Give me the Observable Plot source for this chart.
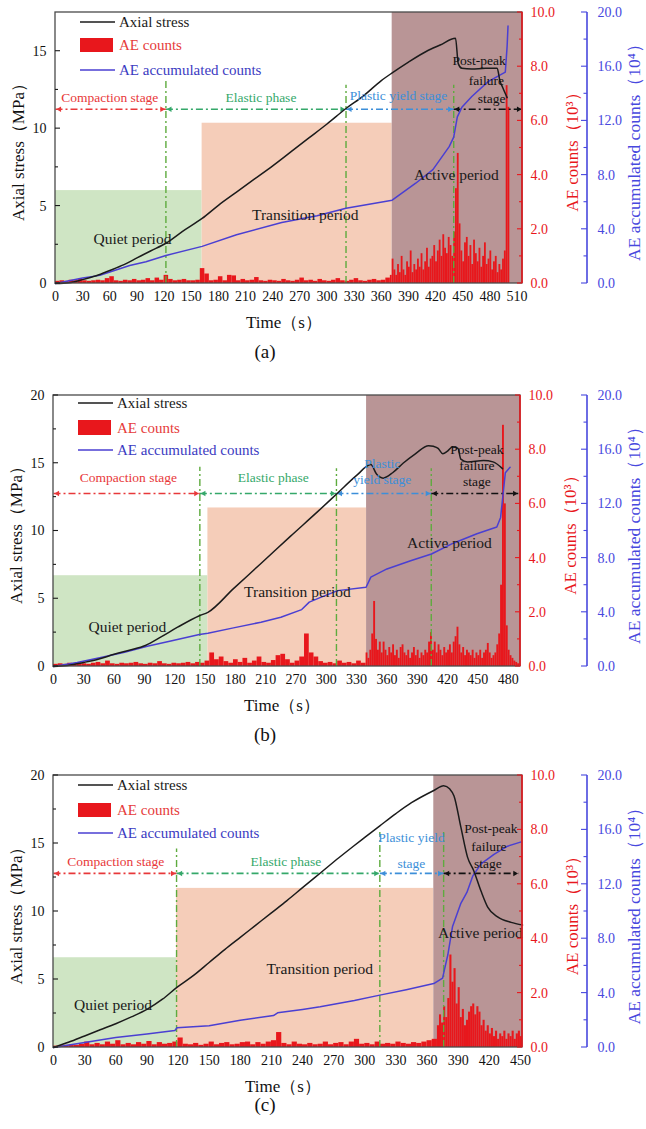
<!DOCTYPE html>
<html>
<head>
<meta charset="utf-8">
<script src="https://cdn.jsdelivr.net/npm/d3@7"></script>
<script src="https://cdn.jsdelivr.net/npm/@observablehq/plot@0.6"></script>
<style>
  body { margin: 0; background: #fff; width: 646px; font-family: "Liberation Serif", "Times New Roman", serif; }
  svg { display: block; overflow: visible; }
  .cap { width: 530px; text-align: center; font-size: 19px; color: #111; }
</style>
</head>
<body>
<div id="root"></div>
<script>
// ---------- Panel (a) ----------
const aTimeTicks = [0, 30, 60, 90, 120, 150, 180, 210, 240, 270, 300, 330, 360, 390, 420, 450, 480, 510];
const aStressT = [0, 15, 30, 45, 60, 75, 90, 105, 122, 140, 162, 180, 200, 220, 240, 260, 280, 300, 321, 340, 360, 372, 390, 410, 425, 442, 445, 449, 460, 475, 488, 491, 494, 499];
const aStress  = [0, 0.05, 0.25, 0.5, 0.84, 1.2, 1.65, 2.1, 2.6, 3.35, 4.2, 5.05, 5.9, 6.75, 7.6, 8.5, 9.4, 10.3, 11.3, 12.1, 13.1, 13.6, 14.3, 15.0, 15.4, 15.84, 14.2, 13.9, 13.85, 13.9, 13.9, 13.1, 12.67, 12.0];
const aAccT = [0, 15, 30, 49, 60, 82, 100, 122, 162, 200, 250, 289, 321, 372, 398, 417, 435, 440, 444, 449, 460, 478, 497, 499, 500];
const aAcc  = [0, 0.2, 0.4, 0.6, 0.85, 1.33, 1.6, 2.07, 2.74, 3.6, 4.5, 5.0, 5.55, 6.15, 7.4, 8.4, 10.1, 10.8, 12.3, 13.0, 13.8, 14.9, 15.6, 17.5, 19.0];
// AE counts (10^3): 5 s bins from 0 s, then 2 s bins from 370 s
const aAeEarly = [
  0.08, 0.10, 0.08, 0.12, 0.10, 0.15, 0.10, 0.08, 0.10, 0.12,
  0.10, 0.18, 0.25, 0.10, 0.08, 0.12, 0.10, 0.15, 0.10, 0.12,
  0.18, 0.10, 0.20, 0.12, 0.30, 0.15, 0.10, 0.12, 0.15, 0.10,
  0.10, 0.12, 0.55, 0.35, 0.10, 0.12, 0.25, 0.10, 0.30, 0.28,
  0.10, 0.15, 0.10, 0.12, 0.22, 0.10, 0.08, 0.12, 0.10, 0.08,
  0.15, 0.10, 0.08, 0.12, 0.20, 0.10, 0.12, 0.08, 0.15, 0.10,
  0.08, 0.12, 0.18, 0.10, 0.08, 0.12, 0.18, 0.10, 0.08, 0.12,
  0.15, 0.10, 0.12, 0.20];
const aAeLate = [
  0.30, 0.90, 0.50, 0.30, 0.70, 0.40, 1.00, 0.50, 0.30, 0.80,
  0.60, 1.20, 0.40, 0.70, 0.50, 0.90, 0.60, 1.10, 0.50, 0.80,
  1.30, 0.60, 0.90, 1.00, 1.40, 0.80, 1.20, 1.60, 1.00, 1.80,
  1.30, 1.10, 1.70, 1.40, 1.00, 1.90, 3.50, 4.80, 2.20, 1.20,
  0.80, 1.50, 1.70, 1.00, 1.40, 0.70, 1.60, 1.10, 0.80, 1.30,
  0.60, 1.00, 1.50, 0.70, 0.90, 1.20, 0.50, 0.80, 1.00, 0.40,
  0.70, 0.50, 0.90, 1.20, 7.30, 6.50];
const aStageEdges = [0, 122, 321, 440, 516];
const aRuleTops = [13.1, 12.8, 12.8];
const aPeriodEdges = [0, 162, 372, 516];
const aPeriodTops = [6.0, 10.35, null];

// ---------- Panel (b) ----------
const bTimeLabels = ["0", "30", "60", "90", "120", "150", "180", "210", "270", "300", "330", "360", "390", "420", "450", "480"];
const bStressT = [0, 15, 32, 48, 64, 80, 97, 114, 131, 154, 163, 190, 219, 250, 280, 300, 320, 335, 341, 348, 358, 369, 382, 396, 401, 406, 411, 416, 421, 427, 430, 437, 454, 464, 474];
const bStress  = [0, 0.08, 0.3, 0.55, 0.9, 1.2, 1.55, 2.2, 2.9, 3.75, 4.0, 5.75, 7.6, 9.6, 11.5, 12.8, 14.1, 14.9, 14.2, 13.9, 14.3, 15.0, 15.7, 16.3, 16.25, 16.1, 15.7, 15.9, 16.2, 16.1, 15.3, 15.1, 15.2, 15.1, 14.6];
const bAccT = [0, 25, 50, 75, 99, 125, 154, 163, 190, 219, 240, 262, 270, 282, 300, 330, 335, 352, 377, 399, 422, 447, 468, 472, 477, 482];
const bAcc  = [0, 0.3, 0.66, 1.05, 1.5, 1.9, 2.36, 2.45, 2.85, 3.27, 3.64, 4.2, 4.75, 5.1, 5.6, 5.85, 6.6, 7.2, 7.8, 8.3, 9.1, 9.8, 10.3, 11.0, 14.3, 14.7];
const bAeEarly = [
  0.08, 0.10, 0.08, 0.12, 0.10, 0.12, 0.10, 0.08, 0.12, 0.15,
  0.10, 0.20, 0.10, 0.08, 0.12, 0.10, 0.12, 0.15, 0.10, 0.08,
  0.12, 0.10, 0.18, 0.10, 0.08, 0.12, 0.10, 0.12, 0.15, 0.10,
  0.15, 0.12, 0.20, 0.50, 0.25, 0.35, 0.18, 0.12, 0.25, 0.15,
  0.30, 0.12, 0.20, 0.35, 0.15, 0.12, 0.22, 0.40, 0.45, 0.25,
  0.12, 0.20, 0.35, 1.20, 0.50, 0.35, 0.18, 0.12, 0.15, 0.10,
  0.20, 0.12, 0.15, 0.10, 0.20, 0.12];
const bAeLate = [
  0.50,
  0.30, 0.60, 1.20, 2.40, 1.00, 0.60, 0.90, 0.50, 0.90, 0.60,
  0.40, 0.70, 0.50, 0.80, 0.40, 0.60, 0.30, 0.70, 0.80, 0.50,
  0.40, 0.60, 0.30, 0.50, 0.70, 0.40, 0.60, 0.30, 0.50, 0.40,
  0.60, 0.50, 0.90, 1.25, 0.60, 0.90, 0.50, 0.80, 0.60, 0.40,
  0.70, 0.50, 0.60, 0.80, 0.50, 0.90, 1.10, 1.45, 0.80, 0.50,
  0.70, 0.40, 0.60, 0.50, 0.40, 0.60, 0.30, 0.50, 0.40, 0.60,
  0.30, 0.50, 0.60, 0.85, 0.50, 0.30, 0.40, 0.50, 0.80, 1.20,
  3.00, 8.90, 6.00, 1.50, 0.60, 0.40, 0.30, 0.20, 0.15, 0.10];
const bStageEdges = [0, 154.5, 298.7, 398.8, 491];
const bRuleTops = [14.7, 14.6, 14.6];
const bPeriodEdges = [0, 163, 330.5, 493];
const bPeriodTops = [6.7, 11.7, null];

// ---------- Panel (c) ----------
const cTimeTicks = [0, 30, 60, 90, 120, 150, 180, 210, 240, 270, 300, 330, 360, 390, 420, 450];
const cStressT = [0, 15, 30, 45, 60, 75, 90, 105, 118.6, 135, 150, 165, 180, 195, 210, 225, 240, 257.5, 275, 289, 300, 314.5, 330, 345, 366.5, 376, 382, 386, 392.6, 399, 405, 412, 418.6, 428, 441, 452];
const cStress  = [0, 0.4, 0.85, 1.3, 1.75, 2.25, 2.8, 3.55, 4.4, 5.3, 6.25, 7.2, 8.1, 9.0, 9.9, 10.8, 11.75, 12.85, 13.95, 14.8, 15.45, 16.3, 17.2, 18.0, 18.9, 19.25, 19.0, 18.5, 16.2, 14.0, 13.0, 11.5, 10.3, 9.6, 9.2, 9.0];
const cAccT = [0, 30, 60, 90, 117, 119, 150, 180, 212, 216, 240, 257, 290, 314.5, 340, 366.5, 375, 377, 380, 384.6, 392.6, 398.4, 404, 412, 424.5, 437.6, 450];
const cAcc  = [0, 0.37, 0.73, 1.0, 1.25, 1.45, 1.6, 2.0, 2.35, 2.55, 2.8, 3.0, 3.45, 3.85, 4.25, 4.7, 5.1, 5.8, 6.8, 8.9, 10.6, 11.4, 12.6, 13.5, 14.2, 14.8, 15.1];
const cAeEarly = [
  0.05, 0.06, 0.08, 0.10, 0.08, 0.12, 0.20, 0.10, 0.15, 0.10,
  0.20, 0.12, 0.25, 0.10, 0.15, 0.10, 0.18, 0.12, 0.22, 0.10,
  0.18, 0.12, 0.15, 0.20, 0.35, 0.12, 0.10, 0.15, 0.08, 0.12,
  0.20, 0.10, 0.15, 0.18, 0.10, 0.12, 0.18, 0.20, 0.10, 0.18,
  0.12, 0.20, 0.25, 0.55, 0.15, 0.10, 0.20, 0.12, 0.10, 0.15,
  0.10, 0.12, 0.20, 0.10, 0.15, 0.18, 0.10, 0.20, 0.30, 0.12,
  0.15, 0.10, 0.20, 0.12, 0.15, 0.12, 0.20, 0.15, 0.12, 0.18,
  0.15, 0.20, 0.25, 0.30];
const cAeLate = [
  0.80, 1.20, 0.90, 1.50, 1.10, 1.80, 3.40, 2.40, 2.90, 1.60,
  2.20, 1.10, 1.40, 0.80, 1.00, 1.30, 1.50, 1.60, 1.20, 1.50,
  1.30, 0.80, 1.00, 0.60, 0.80, 0.50, 0.70, 0.40, 0.60, 0.30,
  0.50, 0.40, 0.60, 0.30, 0.50, 0.40, 0.60, 0.30, 0.50, 0.60,
  0.40];
const cStageEdges = [0, 118.6, 314.5, 376, 448.5];
const cRuleTops = [14.6, 15.8, 15.8];
const cPeriodEdges = [0, 118.6, 366.5, 452];
const cPeriodTops = [6.6, 11.7, null];

// ---------- shared axis values and styling ----------
const aeTicks = [0, 2, 4, 6, 8, 10];
const aeMinor = [1, 3, 5, 7, 9];
const accTicks = [0, 4, 8, 12, 16, 20];
const accMinor = [2, 6, 10, 14, 18];
const periodNames = ["Quiet period", "Transition period", "Active period"];

const RED = "#e8171c";
const BLUE = "#4a3fd2";
const BLUE_AXIS = "#4848de";
const BLACK = "#1b1b1b";
const RULE_GREEN = "#5eab3e";
const STAGE_COLORS = ["#e8383a", "#35a86a", "#3d8fd9", "#111111"];
const PERIOD_FILLS = ["#cfe5c4", "#f5cdb9", "#b99596"];

const panels = [
  {
    caption: "(a)", height: 340, mt: 12, mb: 57, ml: 55, right: 522, xMax: 516, yMax: 17.5,
    stressTicks: [0, 5, 10, 15], stressMinor: [2.5, 7.5, 12.5],
    xTicks: aTimeTicks, xFormat: d => String(d),
    stressT: aStressT, stress: aStress, accT: aAccT, acc: aAcc,
    aeEarly: aAeEarly, earlyStep: 5, aeLate: aAeLate, lateStart: 370, lateStep: 2,
    stageEdges: aStageEdges, ruleTops: aRuleTops, arrowY: 11.25,
    periodEdges: aPeriodEdges, periodTops: aPeriodTops,
    accOffset: 65, legend: [10, 26, 40, 58],
    stageNotes: [
      {x: 60, y: 12.02, text: "Compaction stage", c: 0},
      {x: 227, y: 12.02, text: "Elastic phase", c: 1},
      {x: 379, y: 12.1, text: "Plastic yield stage", c: 2},
      {x: 468, y: 14.4, text: "Post-peak", c: 3},
      {x: 476, y: 13.1, text: "failure", c: 3},
      {x: 482, y: 11.96, text: "stage", c: 3}
    ],
    periodNotes: [{x: 85, y: 2.9}, {x: 276, y: 4.4}, {x: 443, y: 7.0}]
  },
  {
    caption: "(b)", height: 345, mt: 25, mb: 49, ml: 53, right: 520, xMax: 493, yMax: 20,
    stressTicks: [0, 5, 10, 15, 20], stressMinor: [2.5, 7.5, 12.5, 17.5],
    xTicks: bTimeLabels.map((_, i) => i * 32), xFormat: d => bTimeLabels[Math.round(d / 32)],
    stressT: bStressT, stress: bStress, accT: bAccT, acc: bAcc,
    aeEarly: bAeEarly, earlyStep: 5, aeLate: bAeLate, lateStart: 330, lateStep: 2,
    stageEdges: bStageEdges, ruleTops: bRuleTops, arrowY: 12.77,
    periodEdges: bPeriodEdges, periodTops: bPeriodTops,
    accOffset: 67, legend: [8, 25, 40, 55],
    stageNotes: [
      {x: 79, y: 13.9, text: "Compaction stage", c: 0},
      {x: 232, y: 13.9, text: "Elastic phase", c: 1},
      {x: 347, y: 15.0, text: "Plastic", c: 2},
      {x: 347, y: 13.8, text: "yield stage", c: 2},
      {x: 447, y: 16.0, text: "Post-peak", c: 3},
      {x: 447, y: 14.8, text: "failure", c: 3},
      {x: 447, y: 13.65, text: "stage", c: 3}
    ],
    periodNotes: [{x: 78, y: 2.88}, {x: 257.5, y: 5.46}, {x: 418, y: 9.08}]
  },
  {
    caption: "(c)", height: 338, mt: 20, mb: 46, ml: 53, right: 522, xMax: 452, yMax: 20,
    stressTicks: [0, 5, 10, 15, 20], stressMinor: [2.5, 7.5, 12.5, 17.5],
    xTicks: cTimeTicks, xFormat: d => String(d),
    stressT: cStressT, stress: cStress, accT: cAccT, acc: cAcc,
    aeEarly: cAeEarly, earlyStep: 5, aeLate: cAeLate, lateStart: 370, lateStep: 2,
    stageEdges: cStageEdges, ruleTops: cRuleTops, arrowY: 12.8,
    periodEdges: cPeriodEdges, periodTops: cPeriodTops,
    accOffset: 65, legend: [10, 28, 42, 58],
    stageNotes: [
      {x: 60, y: 13.7, text: "Compaction stage", c: 0},
      {x: 224, y: 13.7, text: "Elastic phase", c: 1},
      {x: 345, y: 15.4, text: "Plastic yield", c: 2},
      {x: 345, y: 13.5, text: "stage", c: 2},
      {x: 421.5, y: 16.1, text: "Post-peak", c: 3},
      {x: 419.6, y: 14.8, text: "failure", c: 3},
      {x: 418.6, y: 13.5, text: "stage", c: 3}
    ],
    periodNotes: [{x: 57.4, y: 3.1}, {x: 256.6, y: 5.8}, {x: 411.4, y: 8.4}]
  }
];

// frame, axis lines and inward tick marks for the three vertical axes
function axisDecor(c, toAe, toAcc) {
  return (index, {y}, values, dim) => {
    const L = dim.marginLeft, R = dim.width - dim.marginRight;
    const T = dim.marginTop, B = dim.height - dim.marginBottom;
    const g = d3.create("svg:g").attr("fill", "none");
    g.append("rect").attr("x", L).attr("y", T).attr("width", R - L).attr("height", B - T)
      .attr("stroke", "#4a4a4a").attr("stroke-width", 1.3);
    const tick = (x0, len, yy, color) => g.append("line")
      .attr("x1", x0).attr("x2", x0 + len).attr("y1", yy).attr("y2", yy)
      .attr("stroke", color).attr("stroke-width", 1.1);
    c.stressTicks.forEach(v => tick(L, 5, y(v), BLACK));
    c.stressMinor.forEach(v => tick(L, 3, y(v), BLACK));
    g.append("line").attr("x1", R).attr("x2", R).attr("y1", T).attr("y2", B)
      .attr("stroke", RED).attr("stroke-width", 1.6);
    aeTicks.forEach(v => tick(R, -5, y(toAe(v)), RED));
    aeMinor.forEach(v => tick(R, -3, y(toAe(v)), RED));
    const xa = R + c.accOffset;
    g.append("line").attr("x1", xa).attr("x2", xa).attr("y1", y(toAcc(0))).attr("y2", y(toAcc(20)))
      .attr("stroke", BLUE_AXIS).attr("stroke-width", 1.6);
    accTicks.forEach(v => tick(xa, -6, y(toAcc(v)), BLUE_AXIS));
    accMinor.forEach(v => tick(xa, -3.5, y(toAcc(v)), BLUE_AXIS));
    return g.node();
  };
}

// legend box in the upper-left corner of the frame
function legendMark(c) {
  return (index, scales, values, dim) => {
    const [yl, yr0, yr1, yb] = c.legend;
    const L = dim.marginLeft + 25, T = dim.marginTop;
    const g = d3.create("svg:g");
    g.append("line").attr("x1", L).attr("x2", L + 35).attr("y1", T + yl).attr("y2", T + yl)
      .attr("stroke", BLACK).attr("stroke-width", 1.5);
    g.append("rect").attr("x", L).attr("y", T + yr0).attr("width", 33).attr("height", yr1 - yr0)
      .attr("fill", RED);
    g.append("line").attr("x1", L).attr("x2", L + 35).attr("y1", T + yb).attr("y2", T + yb)
      .attr("stroke", BLUE).attr("stroke-width", 1.6);
    const items = [["Axial stress", BLACK, yl], ["AE counts", "#e63b3b", (yr0 + yr1) / 2], ["AE accumulated counts", "#3b3bc2", yb]];
    for (const [label, color, yy] of items) {
      g.append("text").attr("x", L + 39).attr("y", T + yy).attr("dy", "0.35em")
        .attr("text-anchor", "start").attr("fill", color).attr("font-size", 15).text(label);
    }
    return g.node();
  };
}

function drawPanel(c) {
  const k = c.yMax;
  const toAe = v => v * k / 10;
  const toAcc = v => v * k / 20;
  const stressRows = c.stressT.map((t, i) => ({t, v: c.stress[i]}));
  const accRows = c.accT.map((t, i) => ({t, v: toAcc(c.acc[i])}));
  const aeRows = [
    ...c.aeEarly.map((v, i) => ({t0: i * c.earlyStep, t1: (i + 1) * c.earlyStep, v: toAe(v)})),
    ...c.aeLate.map((v, i) => ({t0: c.lateStart + i * c.lateStep, t1: c.lateStart + (i + 1) * c.lateStep, v: toAe(v)}))
  ];
  const periodRows = periodNames.map((name, i) => ({
    name, x1: c.periodEdges[i], x2: c.periodEdges[i + 1],
    top: c.periodTops[i] ?? k, fill: PERIOD_FILLS[i],
    tx: c.periodNotes[i].x, ty: c.periodNotes[i].y
  }));
  const stageRows = STAGE_COLORS.map((color, i) => ({x1: c.stageEdges[i], x2: c.stageEdges[i + 1], color}));
  const ruleRows = c.stageEdges.slice(1, -1).map((t, i) => ({t, top: c.ruleTops[i]}));
  const stageText = c.stageNotes.map(d => ({...d, color: STAGE_COLORS[d.c]}));

  return Plot.plot({
    width: 646,
    height: c.height,
    marginLeft: c.ml,
    marginRight: 646 - c.right,
    marginTop: c.mt,
    marginBottom: c.mb,
    x: {domain: [0, c.xMax]},
    y: {domain: [0, k]},
    color: {type: "identity"},
    style: {fontFamily: "'Liberation Serif', 'Times New Roman', serif", fontSize: "14px", color: "#111", background: "transparent", overflow: "visible"},
    marks: [
      // shaded AE periods
      Plot.rect(periodRows, {x1: "x1", x2: "x2", y1: 0, y2: "top", fill: "fill"}),
      // AE counts per time bin
      Plot.rect(aeRows, {x1: "t0", x2: "t1", y1: 0, y2: "v", fill: RED}),
      // stage boundaries
      Plot.ruleX(ruleRows, {x: "t", y1: 0, y2: "top", stroke: RULE_GREEN, strokeWidth: 1.4, strokeDasharray: "7,3,2,3"}),
      // stage spans with double arrow heads
      Plot.link(stageRows, {x1: "x1", x2: "x2", y1: c.arrowY, y2: c.arrowY, stroke: "color", strokeWidth: 1.6, strokeDasharray: "7,3,2,3"}),
      Plot.dot(stageRows, {x: "x1", y: c.arrowY, fill: "color", symbol: "triangle2", r: 2.6, rotate: -90, dx: 4}),
      Plot.dot(stageRows, {x: "x2", y: c.arrowY, fill: "color", symbol: "triangle2", r: 2.6, rotate: 90, dx: -4}),
      // axial stress and AE accumulated counts
      Plot.line(accRows, {x: "t", y: "v", stroke: BLUE, strokeWidth: 1.5}),
      Plot.line(stressRows, {x: "t", y: "v", stroke: BLACK, strokeWidth: 1.5, curve: "monotone-x"}),
      // labels
      Plot.text(stageText, {x: "x", y: "y", text: "text", fill: "color", fontSize: 13.5}),
      Plot.text(periodRows, {x: "tx", y: "ty", text: "name", fill: "#1a1a1a", fontSize: 15.5}),
      axisDecor(c, toAe, toAcc),
      Plot.axisY(c.stressTicks, {anchor: "left", tickSize: 0, tickPadding: 9, label: null, fontSize: 14}),
      Plot.axisY(aeTicks.map(toAe), {anchor: "right", tickSize: 0, tickPadding: 8, label: null, fontSize: 14,
        color: RED, tickFormat: d => (d * 10 / k).toFixed(1)}),
      Plot.axisY(accTicks.map(toAcc), {anchor: "right", tickSize: 0, tickPadding: c.accOffset + 10, label: null, fontSize: 14,
        color: BLUE_AXIS, tickFormat: d => (d * 20 / k).toFixed(1)}),
      Plot.axisX(c.xTicks, {anchor: "bottom", tickSize: 0, tickPadding: 8, label: null, fontSize: 14, tickFormat: c.xFormat}),
      Plot.text(["Axial stress（MPa）"], {text: d => d, frameAnchor: "left", dx: -37, rotate: -90, textAnchor: "middle", lineAnchor: "middle", fontSize: 17, fill: "#111"}),
      Plot.text(["AE counts（10³）"], {text: d => d, frameAnchor: "right", dx: 50, rotate: -90, textAnchor: "middle", lineAnchor: "middle", fontSize: 17, fill: RED}),
      Plot.text(["AE accumulated counts（10⁴）"], {text: d => d, frameAnchor: "right", dx: c.accOffset + 47, rotate: -90, textAnchor: "middle", lineAnchor: "middle", fontSize: 17.5, fill: BLUE_AXIS}),
      Plot.text(["Time（s）"], {text: d => d, frameAnchor: "bottom", dx: -5, dy: 39, textAnchor: "middle", lineAnchor: "middle", fontSize: 17, fill: "#111"}),
      legendMark(c)
    ]
  });
}

const root = document.getElementById("root");
const capHeights = [[30, 24], [40, 40], [30, 24]];
panels.forEach((c, i) => {
  root.appendChild(drawPanel(c));
  const cap = document.createElement("div");
  cap.className = "cap";
  cap.style.height = capHeights[i][0] + "px";
  cap.style.lineHeight = capHeights[i][1] + "px";
  cap.textContent = c.caption;
  root.appendChild(cap);
});
</script>
</body>
</html>
